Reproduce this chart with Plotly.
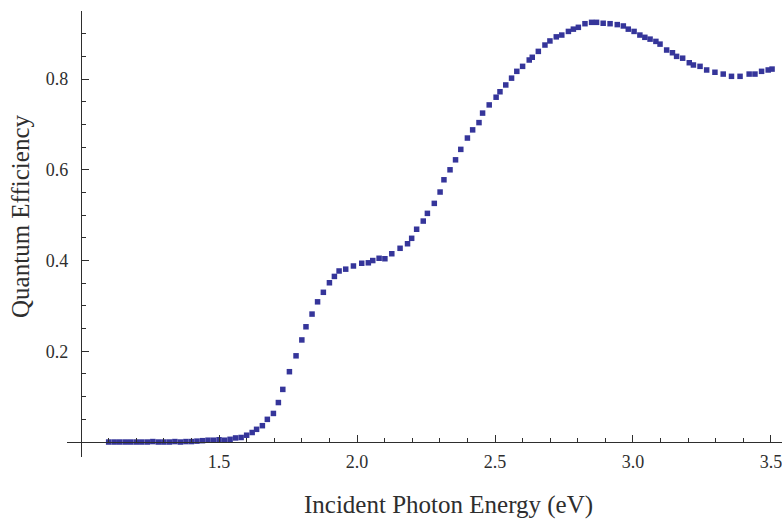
import plotly.graph_objects as go

energy = [1.10, 1.12, 1.14, 1.16, 1.18, 1.20, 1.22, 1.24, 1.26, 1.28,
          1.30, 1.32, 1.34, 1.36, 1.38, 1.40, 1.42, 1.44, 1.46, 1.48,
          1.50, 1.52, 1.54, 1.56, 1.58, 1.60, 1.62, 1.636, 1.657, 1.675,
          1.697, 1.715, 1.731, 1.755, 1.779, 1.800, 1.815, 1.837, 1.857, 1.878,
          1.900, 1.918, 1.935, 1.959, 1.987, 2.017, 2.041, 2.057, 2.080, 2.101,
          2.126, 2.156, 2.183, 2.198, 2.216, 2.240, 2.255, 2.280, 2.301, 2.315,
          2.337, 2.357, 2.376, 2.400, 2.419, 2.442, 2.455, 2.479, 2.504, 2.518,
          2.539, 2.560, 2.579, 2.600, 2.624, 2.635, 2.657, 2.681, 2.699, 2.722,
          2.742, 2.766, 2.784, 2.802, 2.826, 2.850, 2.868, 2.892, 2.917, 2.943,
          2.965, 2.983, 3.004, 3.025, 3.043, 3.062, 3.083, 3.098, 3.122, 3.143,
          3.158, 3.180, 3.204, 3.219, 3.243, 3.267, 3.297, 3.327, 3.357, 3.388,
          3.421, 3.442, 3.466, 3.490, 3.504]
qe = [0.000, 0.000, 0.000, 0.000, 0.000, 0.000, 0.000, 0.000, 0.001, 0.000,
      0.000, 0.000, 0.001, 0.000, 0.001, 0.001, 0.002, 0.003, 0.004, 0.004,
      0.005, 0.004, 0.006, 0.009, 0.010, 0.015, 0.021, 0.028, 0.036, 0.050,
      0.063, 0.087, 0.116, 0.155, 0.190, 0.225, 0.254, 0.282, 0.309, 0.330,
      0.351, 0.365, 0.377, 0.381, 0.388, 0.394, 0.395, 0.400, 0.405, 0.404,
      0.415, 0.427, 0.437, 0.449, 0.469, 0.487, 0.504, 0.526, 0.551, 0.578,
      0.600, 0.622, 0.645, 0.670, 0.688, 0.704, 0.725, 0.743, 0.760, 0.772,
      0.787, 0.802, 0.817, 0.828, 0.842, 0.848, 0.861, 0.875, 0.884, 0.893,
      0.897, 0.905, 0.910, 0.914, 0.922, 0.925, 0.925, 0.923, 0.922, 0.920,
      0.917, 0.910, 0.905, 0.897, 0.892, 0.888, 0.883, 0.877, 0.864, 0.858,
      0.850, 0.846, 0.836, 0.831, 0.828, 0.820, 0.815, 0.811, 0.806, 0.806,
      0.811, 0.811, 0.817, 0.820, 0.822]

x_ticks = [1.5, 2.0, 2.5, 3.0, 3.5]
x_minor = [1.1, 1.2, 1.3, 1.4, 1.6, 1.7, 1.8, 1.9, 2.1, 2.2, 2.3, 2.4,
           2.6, 2.7, 2.8, 2.9, 3.1, 3.2, 3.3, 3.4]
y_ticks = [0.2, 0.4, 0.6, 0.8]
y_minor = [0.05, 0.1, 0.15, 0.25, 0.3, 0.35, 0.45, 0.5, 0.55, 0.65, 0.7,
           0.75, 0.85, 0.9, 0.95]

x_title = "Incident Photon Energy (eV)"
y_title = "Quantum Efficiency"

x_range = [0.949, 3.540]
y_range = [-0.033, 0.950]

FONT = "Liberation Serif"
AX = "#2e2e2e"

fig = go.Figure()
fig.add_trace(go.Scatter(
    x=energy, y=qe, mode="markers",
    marker=dict(symbol="square", size=5.5, color="#35359a", line=dict(width=0)),
    showlegend=False,
))

# axes cross at (1.0, 0.0) like the original
ypos = (1.0 - x_range[0]) / (x_range[1] - x_range[0])
xpos = (0.0 - y_range[0]) / (y_range[1] - y_range[0])

fig.update_layout(
    width=782, height=520,
    margin=dict(l=67, r=0, t=11, b=63),
    paper_bgcolor="white", plot_bgcolor="white",
    font=dict(family=FONT, color=AX),
    xaxis=dict(
        range=x_range, anchor="free", position=xpos,
        showgrid=False, zeroline=False,
        showline=True, linecolor=AX, linewidth=1.3,
        tickmode="array", tickvals=x_ticks, tickformat=".1f",
        ticks="inside", ticklen=7, tickwidth=1.3, tickcolor=AX,
        minor=dict(tickmode="array", tickvals=x_minor, ticks="inside",
                   ticklen=4, tickwidth=1, tickcolor=AX),
        tickfont=dict(size=18, family=FONT, color=AX),
        ticklabelstandoff=3,
        ticklabeloverflow="allow",
        automargin=False,
    ),
    yaxis=dict(
        range=y_range, anchor="free", position=ypos,
        showgrid=False, zeroline=False,
        showline=True, linecolor=AX, linewidth=1.3,
        tickmode="array", tickvals=y_ticks, tickformat=".1f",
        ticks="inside", ticklen=7, tickwidth=1.3, tickcolor=AX,
        minor=dict(tickmode="array", tickvals=y_minor, ticks="inside",
                   ticklen=4, tickwidth=1, tickcolor=AX),
        tickfont=dict(size=18, family=FONT, color=AX),
        ticklabelstandoff=9,
        ticklabeloverflow="allow",
        automargin=False,
    ),
    annotations=[
        dict(text=x_title, xref="paper", yref="paper", x=0.534, y=-0.108,
             xanchor="center", yanchor="middle", showarrow=False,
             font=dict(size=25, family=FONT, color=AX)),
        dict(text=y_title, xref="paper", yref="paper", x=-0.066, y=0.540,
             xanchor="center", yanchor="middle", showarrow=False,
             textangle=-90, font=dict(size=25, family=FONT, color=AX)),
    ],
)

fig.write_html(
    "out.html",
    config={"displayModeBar": False},
    post_script="document.body.style.margin='0';"
                "document.body.style.overflow='hidden';",
)
